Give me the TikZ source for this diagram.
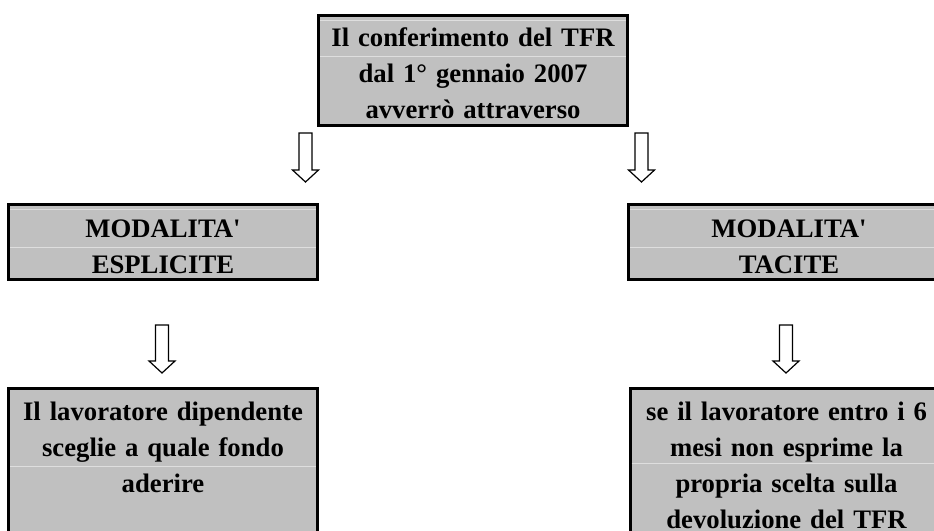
\documentclass[tikz,border=0pt]{standalone}
\usepackage{fontspec}
\setmainfont{Liberation Serif}
\usetikzlibrary{calc}

\definecolor{grigio}{HTML}{C0C0C0}
\definecolor{rigachiara}{HTML}{DEDEDE}

\tikzset{
  casella/.style={draw=black, line width=3pt, fill=grigio, inner sep=0pt,
    anchor=north, align=center, font=\bfseries\fontsize{26.7pt}{36pt}\selectfont},
  riga/.style={rigachiara, line width=1pt, shorten <=3pt, shorten >=3pt},
  freccia/.style={draw=black, fill=white, line width=1.2pt, line join=miter},
}

% freccia cava verso il basso, da #1 (cima) a #2 (punta)
\newcommand{\frecciagiu}[2]{%
  \draw[freccia] let \p1=(#1), \p2=(#2) in
    (\x1-6.5pt,\y1) -- (\x1+6.5pt,\y1) -- (\x1+6.5pt,\y2+12pt)
    -- (\x1+13pt,\y2+12pt) -- (\x2,\y2) -- (\x1-13pt,\y2+12pt)
    -- (\x1-6.5pt,\y2+12pt) -- cycle;}

\begin{document}
\begin{tikzpicture}[x=1pt, y=-1pt]
\useasboundingbox (0,0) rectangle (934,530);
\clip (0,0) rectangle (934,530);

% Casella iniziale
\node[casella, text width=309pt, text height=31.2pt, text depth=78.8pt]
  (conferimento) at (473,14) {Il conferimento del TFR\\dal 1° gennaio 2007\\avverrò attraverso};
\draw[riga] ([yshift=-6.7pt]conferimento.north west) -- ([yshift=-6.7pt]conferimento.north east);
\draw[riga] ([yshift=-42.7pt]conferimento.north west) -- ([yshift=-42.7pt]conferimento.north east);

% Modalita'
\node[casella, text width=309pt, text height=32.5pt, text depth=42pt]
  (esplicite) at (163,203) {MODALITA\textquotesingle\\ESPLICITE};
\node[casella, text width=321pt, text height=32.5pt, text depth=42pt]
  (tacite) at (789,203) {MODALITA\textquotesingle\\TACITE};
\foreach \n in {esplicite, tacite} {
  \draw[riga] ([yshift=-6pt]\n.north west) -- ([yshift=-6pt]\n.north east);
  \draw[riga] ([yshift=-44pt]\n.north west) -- ([yshift=-44pt]\n.north east);
}

% Esiti
\node[casella, text width=309pt, text height=31.5pt, text depth=200pt]
  (sceglie) at (163,387) {Il lavoratore dipendente\\sceglie a quale fondo\\aderire};
\node[casella, text width=313pt, text height=31.5pt, text depth=200pt]
  (silenzio) at (786.5,387) {se il lavoratore entro i 6\\mesi non esprime la\\propria scelta sulla\\devoluzione del TFR};
\draw[riga] ([yshift=-79pt]sceglie.north west) -- ([yshift=-79pt]sceglie.north east);
\draw[riga] ([yshift=-76pt]silenzio.north west) -- ([yshift=-76pt]silenzio.north east);

% Frecce
\coordinate (f1a) at (305.5,133); \coordinate (f1b) at (305.5,182);
\coordinate (f2a) at (641.5,133); \coordinate (f2b) at (641.5,182);
\coordinate (f3a) at (162,325);   \coordinate (f3b) at (162,373);
\coordinate (f4a) at (786,325);   \coordinate (f4b) at (786,373);
\frecciagiu{f1a}{f1b}
\frecciagiu{f2a}{f2b}
\frecciagiu{f3a}{f3b}
\frecciagiu{f4a}{f4b}
\end{tikzpicture}
\end{document}
